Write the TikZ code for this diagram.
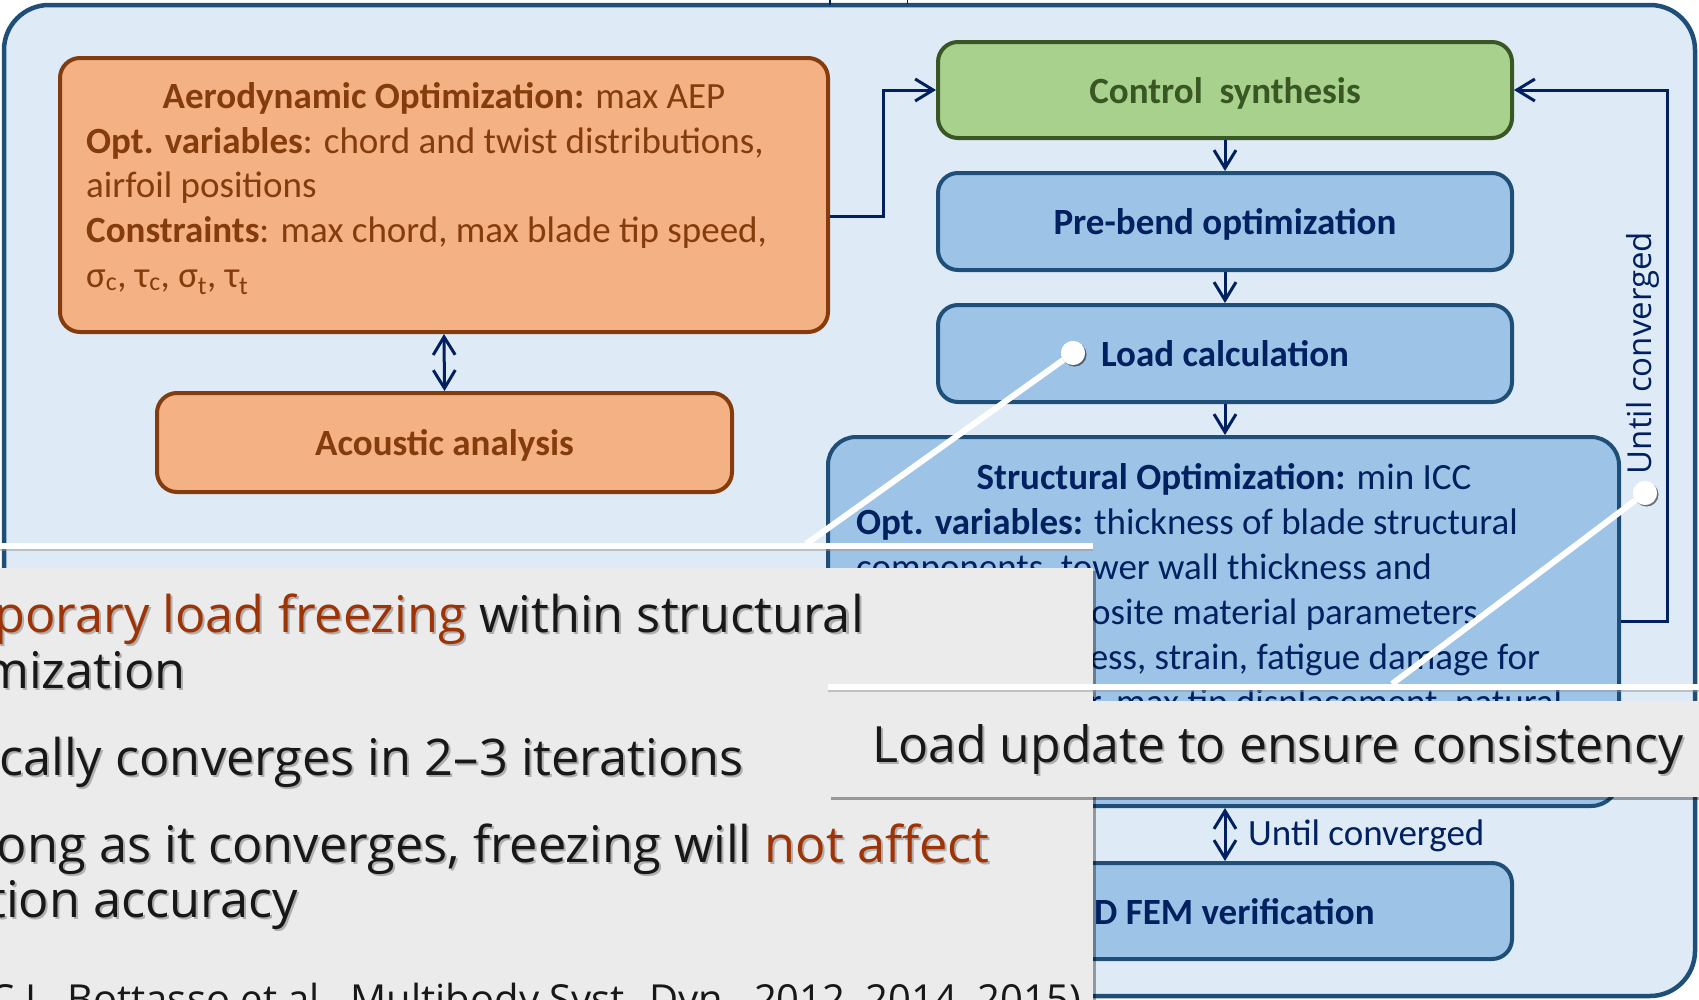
\documentclass[tikz,border=0pt]{standalone}
\usepackage{fontspec}
\setmainfont{Carlito}
\newfontfamily\calloutfont{Open Sans}
\usetikzlibrary{arrows.meta,shadows}

\definecolor{framefill}{RGB}{222,235,247}
\definecolor{frameline}{RGB}{31,78,121}
\definecolor{aerofill}{RGB}{244,177,131}
\definecolor{aeroline}{RGB}{132,60,12}
\definecolor{ctrlfill}{RGB}{169,209,142}
\definecolor{ctrlline}{RGB}{56,87,35}
\definecolor{bluefill}{RGB}{157,195,230}
\definecolor{navy}{RGB}{0,32,96}
\definecolor{calloutfill}{RGB}{235,235,235}
\definecolor{callouttext}{RGB}{24,24,24}
\definecolor{hilite}{RGB}{158,52,6}
\definecolor{txtshadow}{RGB}{175,175,175}
\definecolor{barshadow}{RGB}{150,150,150}

% highlighted words and a soft text shadow for the callouts
\newcommand\hl[1]{\textcolor{hilite}{#1}}
\newcommand\shtext[1]{\leavevmode\rlap{\hspace{2pt}\raisebox{-2pt}{\def\hl##1{##1}\color{txtshadow}#1}}#1}

\begin{document}
\begin{tikzpicture}[x=1pt,y=-1pt,
  panel/.style={draw=frameline, fill=framefill, line width=4.5pt, rounded corners=45pt, inner sep=0pt},
  box/.style={line width=4pt, rounded corners=20pt, inner sep=0pt},
  aerobox/.style={box, draw=aeroline, fill=aerofill},
  ctrlbox/.style={box, draw=ctrlline, fill=ctrlfill},
  bluebox/.style={box, draw=frameline, fill=bluefill},
  boxtxt/.style={inner sep=0pt, font=\fontsize{37pt}{44pt}\selectfont},
  aerotxt/.style={boxtxt, text=aeroline},
  bluetxt/.style={boxtxt, text=navy},
  tip/.tip={Straight Barb[length=18pt,width=22pt,line width=3pt]},
  conn/.style={draw=navy, line width=3pt, -tip},
  dconn/.style={draw=navy, line width=3pt, tip-tip},
  callbox/.style={fill=calloutfill, draw=none,
    drop shadow={shadow xshift=2.5pt, shadow yshift=-2.5pt, opacity=0.35, fill=black}},
  bar/.style={draw=white, line width=6.5pt},
  barshade/.style={draw=barshadow, line width=6.5pt, opacity=0.5},
  dot/.style={circle, fill=white, minimum size=24pt, inner sep=0pt,
    drop shadow={shadow xshift=1.5pt, shadow yshift=-1.5pt, opacity=0.3, fill=black}},
  calltxt/.style={inner sep=0pt, text=callouttext, font=\calloutfont\fontsize{50.5pt}{60pt}\selectfont},
  citetxt/.style={inner sep=0pt, text=callouttext, font=\calloutfont\fontsize{40pt}{48pt}\selectfont}]

\useasboundingbox (0,0) rectangle (1699,999);
\clip (0,0) rectangle (1699,999);

% background panel and the two stubs entering it from above
\node[panel, minimum width=1691pt, minimum height=991pt] (panel) at (849.5,500.5) {};
\coordinate (stubA) at (830,0);
\coordinate (stubB) at (907,0);
\draw[navy, line width=1.5pt] (stubA) -- ++(0,5);
\draw[navy, line width=1pt] (stubB) -- ++(0,4);

% aerodynamic side
\node[aerobox, minimum width=768pt, minimum height=274pt] (aero) at (444,195) {};
\node[aerotxt, anchor=base] (aero1) at (444,108) {\textbf{Aerodynamic Optimization:} max AEP};
\node[aerotxt, anchor=base west] (aero2) at (86,153) {\textbf{Opt. variables}: chord and twist distributions,};
\node[aerotxt, anchor=base west] (aero3) at (86,197) {airfoil positions};
\node[aerotxt, anchor=base west] (aero4) at (86,242) {\textbf{Constraints}: max chord, max blade tip speed,};
\node[aerotxt, anchor=base west] (aero5) at (86,287) {σ\textsubscript{c}, τ\textsubscript{c}, σ\textsubscript{t}, τ\textsubscript{t}};

\node[aerobox, minimum width=575pt, minimum height=99pt] (acou) at (444.5,442.5) {};
\node[aerotxt, anchor=base] (acoutxt) at (444.5,455) {\textbf{Acoustic analysis}};

% structural chain
\node[ctrlbox, minimum width=574pt, minimum height=96pt] (ctrl) at (1225,90) {};
\node[boxtxt, text=ctrlline, anchor=base] (ctrltxt) at (1225,103) {\textbf{Control\ \ synthesis}};

\node[bluebox, minimum width=574pt, minimum height=97pt] (pre) at (1225,221.5) {};
\node[bluetxt, anchor=base] (pretxt) at (1225,234) {\textbf{Pre-bend optimization}};

\node[bluebox, minimum width=574pt, minimum height=97pt] (load) at (1225,353.5) {};
\node[bluetxt, anchor=base] (loadtxt) at (1225,366) {\textbf{Load calculation}};

\node[bluebox, rounded corners=28pt, minimum width=791pt, minimum height=369pt] (struct) at (1223.5,621.5) {};
\node[bluetxt, anchor=base] (st1) at (1224,489) {\textbf{Structural Optimization:} min ICC};
\node[bluetxt, anchor=base west] (st2) at (856,534) {\textbf{Opt. variables:} thickness of blade structural};
\node[bluetxt, anchor=base west] (st3) at (856,579) {components, tower wall thickness and};
\node[bluetxt, anchor=base west] (st4) at (856,624) {diameter, composite material parameters};
\node[bluetxt, anchor=base west] (st5) at (856,669) {\textbf{Constraints:} stress, strain, fatigue damage for};
\node[bluetxt, anchor=base west] (st6) at (856,714) {blade and tower, max tip displacement, natural};

\node[bluebox, minimum width=574pt, minimum height=96pt] (fem) at (1225,911) {};
\node[bluetxt, anchor=base] (femtxt) at (1225,924) {\textbf{3D FEM verification}};

% connectors
\draw[conn] (aero.east |- 0,216) -- (883,216) -- (883,90) -- (ctrl.west);
\draw[dconn] (aero.south) -- (acou.north);
\draw[conn] (ctrl.south) -- (pre.north);
\draw[conn] (pre.south) -- (load.north);
\draw[conn] (load.south) -- (load.south |- struct.north);
\draw[conn] (struct.east) -- (1667,621.5) -- (1667,90) -- (ctrl.east);
\draw[dconn] (fem.north |- struct.south) -- (fem.north);
\node[bluetxt, anchor=base west] (conv1) at (1248,845) {Until converged};
\node[inner sep=0pt, text=navy, font=\calloutfont\fontsize{33pt}{40pt}\selectfont, rotate=90] (conv2) at (1643,353) {Until converged};

% callout on the load calculation
\node[dot] (dot1) at (1073,353) {};
\coordinate (knee1) at (806,544);
\coordinate (bar1l) at (-10,546);
\coordinate (bar1r) at (1093,546);
\draw[barshade] ([yshift=-2pt]bar1l) -- ([yshift=-2pt]bar1r);
\draw[bar] (bar1l) -- (bar1r);
\draw[draw=white, line width=6pt] (dot1) -- (knee1);
\node[dot] at (dot1) {};
\path[callbox] (-20,568) rectangle (1093,1030);
\node[calltxt, anchor=base east] (c1) at (864,632) {\shtext{\hl{Temporary load freezing} within structural}};
\node[calltxt, anchor=base east] (c2) at (186,688) {\shtext{optimization}};
\node[calltxt, anchor=base east] (c3) at (744,775) {\shtext{Typically converges in 2–3 iterations}};
\node[calltxt, anchor=base east] (c4) at (990,862) {\shtext{As long as it converges, freezing will \hl{not affect}}};
\node[calltxt, anchor=base east] (c5) at (298,917) {\shtext{optimization accuracy}};
\node[citetxt, anchor=base east] (c6) at (1081,1013) {(C.L. Bottasso et al., Multibody Syst. Dyn., 2012, 2014, 2015)};

% callout on the convergence loop
\node[dot] (dot2) at (1645,493) {};
\coordinate (knee2) at (1392,684);
\coordinate (bar2l) at (828,687);
\coordinate (bar2r) at (1710,687);
\draw[barshade] ([yshift=-2pt]bar2l) -- ([yshift=-2pt]bar2r);
\draw[bar] (bar2l) -- (bar2r);
\draw[draw=white, line width=6pt] (dot2) -- (knee2);
\node[dot] at (dot2) {};
\path[callbox] (828,701) rectangle (1720,797);
\node[calltxt, font=\calloutfont\fontsize{50pt}{60pt}\selectfont, anchor=base west] (c7) at (872,762) {\shtext{Load update to ensure consistency}};

\end{tikzpicture}
\end{document}
